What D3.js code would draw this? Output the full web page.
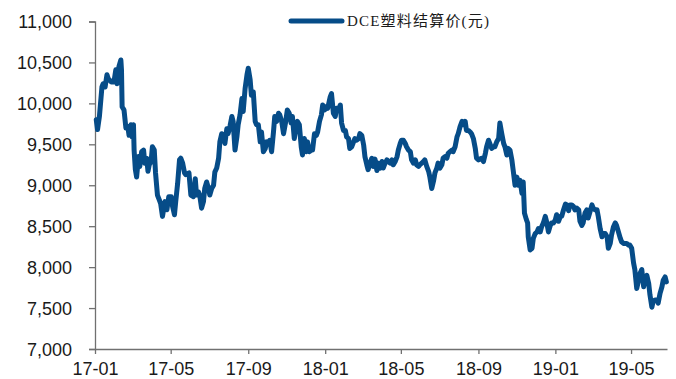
<!DOCTYPE html>
<html>
<head>
<meta charset="utf-8">
<script src="https://cdn.jsdelivr.net/npm/d3@7/dist/d3.min.js"></script>
<style>
  html, body { margin: 0; padding: 0; background: #fff; }
  svg { display: block; }
  .tick text { font-family: "Liberation Sans", Arial, sans-serif; font-size: 18px; fill: #1a1a1a; }
</style>
</head>
<body>
<svg id="chart" width="676" height="379"></svg>
<script>
// DCE plastic (LLDPE) settlement price, yuan/ton
const dates = [
  "17-01-03","17-01-05","17-01-08","17-01-12","17-01-14","17-01-17","17-01-20","17-01-22","17-01-27","17-01-31",
  "17-02-03","17-02-05","17-02-08","17-02-11","17-02-12","17-02-13","17-02-16","17-02-19","17-02-22","17-02-24","17-02-27",
  "17-03-01","17-03-03","17-03-04","17-03-06","17-03-08","17-03-11","17-03-13","17-03-16","17-03-19","17-03-21","17-03-24","17-03-26","17-03-28","17-03-31",
  "17-04-02","17-04-05","17-04-07","17-04-10","17-04-12","17-04-15","17-04-18","17-04-22","17-04-25","17-04-28",
  "17-05-02","17-05-04","17-05-07","17-05-09","17-05-12","17-05-15","17-05-17","17-05-20","17-05-23","17-05-25","17-05-30",
  "17-06-02","17-06-06","17-06-09","17-06-11","17-06-14","17-06-16","17-06-19","17-06-22","17-06-24","17-06-27","17-06-30",
  "17-07-02","17-07-05","17-07-08","17-07-10","17-07-13","17-07-16","17-07-18","17-07-21","17-07-24","17-07-26","17-07-29","17-07-31",
  "17-08-03","17-08-06","17-08-08","17-08-11","17-08-14","17-08-16","17-08-19","17-08-22","17-08-24","17-08-27","17-08-30",
  "17-09-01","17-09-04","17-09-06","17-09-09","17-09-12","17-09-14","17-09-17","17-09-20","17-09-22","17-09-25","17-09-28","17-09-30",
  "17-10-03","17-10-05","17-10-08","17-10-11","17-10-13","17-10-16","17-10-19","17-10-21","17-10-24","17-10-27","17-10-30",
  "17-11-02","17-11-05","17-11-08","17-11-10","17-11-13","17-11-16","17-11-18","17-11-21","17-11-24","17-11-26","17-11-29",
  "17-12-02","17-12-04","17-12-07","17-12-10","17-12-12","17-12-15","17-12-18","17-12-20","17-12-23","17-12-26","17-12-28","17-12-31",
  "18-01-03","18-01-05","18-01-09","18-01-11","18-01-14","18-01-17","18-01-19","18-01-22","18-01-25","18-01-27","18-01-30",
  "18-02-02","18-02-04","18-02-07","18-02-09","18-02-12","18-02-15","18-02-17","18-02-20","18-02-23","18-02-25","18-02-28",
  "18-03-03","18-03-05","18-03-08","18-03-10","18-03-13","18-03-16","18-03-18","18-03-21","18-03-24","18-03-26","18-03-29",
  "18-04-01","18-04-03","18-04-06","18-04-09","18-04-11","18-04-14","18-04-17","18-04-19","18-04-22","18-04-25","18-04-27","18-04-30",
  "18-05-02","18-05-05","18-05-08","18-05-10","18-05-13","18-05-16","18-05-18","18-05-21","18-05-24","18-05-26","18-05-29","18-05-31",
  "18-06-03","18-06-06","18-06-08","18-06-11","18-06-14","18-06-16","18-06-19","18-06-22","18-06-24","18-06-27","18-06-29",
  "18-07-02","18-07-05","18-07-07","18-07-10","18-07-13","18-07-15","18-07-18","18-07-21","18-07-23","18-07-26","18-07-29","18-07-31",
  "18-08-03","18-08-06","18-08-08","18-08-11","18-08-13","18-08-16","18-08-19","18-08-21","18-08-24","18-08-27","18-08-29",
  "18-09-01","18-09-03","18-09-06","18-09-09","18-09-12","18-09-14","18-09-17","18-09-19","18-09-22","18-09-25","18-09-27","18-09-30",
  "18-10-03","18-10-05","18-10-08","18-10-11","18-10-13","18-10-16","18-10-18","18-10-21","18-10-24","18-10-26","18-10-29",
  "18-11-01","18-11-03","18-11-06","18-11-09","18-11-11","18-11-13","18-11-16","18-11-18","18-11-19","18-11-22","18-11-25","18-11-27","18-11-30",
  "18-12-03","18-12-05","18-12-08","18-12-10","18-12-13","18-12-16","18-12-18","18-12-21","18-12-24","18-12-26","18-12-29",
  "19-01-01","19-01-03","19-01-06","19-01-09","19-01-11","19-01-14","19-01-17","19-01-19","19-01-22","19-01-24","19-01-27","19-01-30",
  "19-02-01","19-02-04","19-02-07","19-02-09","19-02-12","19-02-14","19-02-17","19-02-20","19-02-22","19-02-25","19-02-28",
  "19-03-02","19-03-05","19-03-08","19-03-10","19-03-13","19-03-16","19-03-18","19-03-21","19-03-24","19-03-26","19-03-29","19-03-31",
  "19-04-03","19-04-06","19-04-08","19-04-11","19-04-14","19-04-16","19-04-19","19-04-21","19-04-24","19-04-27","19-04-29",
  "19-05-02","19-05-05","19-05-07","19-05-10","19-05-13","19-05-15","19-05-18","19-05-21","19-05-23","19-05-26","19-05-29","19-05-31",
  "19-06-03","19-06-05","19-06-08","19-06-11","19-06-13","19-06-16","19-06-19","19-06-21","19-06-24","19-06-26"
];

const prices = [
  9800,9680,9840,10200,10240,10200,10350,10300,10260,10260,
  10410,10240,10450,10530,10410,9960,9920,9700,9720,9610,9740,
  9590,9740,9430,9190,9100,9350,9230,9410,9430,9270,9330,9170,9250,9290,
  9470,9430,9150,8880,8840,8780,8620,8800,8700,8860,
  8860,8740,8640,8800,9020,9310,9330,9270,9150,9130,9150,
  8880,8860,9080,8880,8920,8880,8720,8800,8960,9040,8960,
  8880,8960,9000,9160,9210,9330,9530,9630,9610,9510,9690,9630,
  9720,9840,9780,9430,9590,9740,9860,10060,9900,10180,10350,
  10430,10290,10100,10140,9780,9740,9740,9530,9650,9410,9450,9530,
  9510,9550,9410,9650,9840,9780,9880,9860,9780,9630,9760,
  9920,9880,9760,9840,9570,9720,9780,9740,9470,9370,9570,
  9410,9530,9410,9430,9430,9630,9610,9650,9780,9860,9980,9920,
  9960,9940,10080,10120,9880,9840,9940,9920,9980,9760,9670,
  9670,9590,9570,9450,9470,9530,9570,9550,9570,9630,9610,
  9490,9350,9250,9190,9270,9330,9230,9320,9180,9270,9210,
  9290,9210,9270,9310,9290,9270,9310,9250,9290,9350,9430,9510,
  9550,9550,9510,9470,9430,9410,9310,9270,9310,9250,9230,9250,
  9270,9290,9310,9230,9170,9100,8960,9060,9150,9210,9270,
  9210,9250,9330,9350,9330,9390,9410,9430,9410,9470,9590,9630,
  9720,9780,9740,9780,9670,9670,9650,9630,9570,9450,9330,
  9310,9320,9330,9290,9390,9470,9550,9510,9450,9470,9470,9530,
  9570,9760,9630,9510,9470,9370,9450,9430,9310,9190,9000,
  9100,9000,9060,8900,9040,8660,8580,8540,8370,8210,8230,8350,8410,
  8430,8470,8430,8490,8540,8620,8560,8430,8510,8540,8540,
  8580,8640,8560,8620,8620,8700,8770,8760,8690,8760,8760,8740,
  8700,8720,8700,8560,8510,8540,8660,8700,8600,8680,8760,
  8720,8700,8700,8620,8470,8370,8410,8410,8370,8230,8290,8390,
  8490,8540,8510,8430,8350,8310,8290,8290,8290,8270,8270,
  8230,8050,7970,7740,7840,7920,7970,7760,7840,7900,7800,7660,
  7510,7580,7600,7600,7560,7680,7760,7840,7880,7820
];

const yTicks = [7000, 7500, 8000, 8500, 9000, 9500, 10000, 10500, 11000];
const xTickLabels = ["17-01", "17-05", "17-09", "18-01", "18-05", "18-09", "19-01", "19-05"];
const seriesName = "DCE塑料结算价(元)";
const domainStart = "17-01-01";
const domainEnd = "19-06-27";

const width = 676, height = 379;
const margin = { top: 21.5, right: 9, bottom: 30, left: 95 };
const lineColor = "#064c88";
const axisColor = "#707070";

const parseDay = d3.timeParse("%y-%m-%d");
const parseMonth = d3.timeParse("%y-%m");
const data = dates.map((d, i) => ({ date: parseDay(d), value: prices[i] }));

const svg = d3.select("#chart");

const x = d3.scaleTime()
  .domain([parseDay(domainStart), parseDay(domainEnd)])
  .range([margin.left, width - margin.right]);

const y = d3.scaleLinear()
  .domain([7000, 11000])
  .range([height - margin.bottom, margin.top]);

// y axis
const yAxis = svg.append("g")
  .attr("transform", `translate(${margin.left},0)`)
  .call(d3.axisLeft(y).tickValues(yTicks).tickFormat(d3.format(",")).tickSize(6).tickPadding(17));
yAxis.select(".domain").attr("stroke", axisColor).attr("stroke-width", 1.3);
yAxis.selectAll(".tick line").attr("stroke", axisColor).attr("stroke-width", 1.3);
yAxis.selectAll(".tick text").attr("dy", "0.36em");

// x axis
const xAxis = svg.append("g")
  .attr("transform", `translate(0,${height - margin.bottom})`)
  .call(d3.axisBottom(x).tickValues(xTickLabels.map(parseMonth)).tickFormat(d3.timeFormat("%y-%m")).tickSize(5).tickSizeOuter(0).tickPadding(8));
xAxis.select(".domain").attr("stroke", axisColor).attr("stroke-width", 1.3);
xAxis.selectAll(".tick line").attr("stroke", axisColor).attr("stroke-width", 1.3);

// price line
const line = d3.line()
  .x(d => x(d.date))
  .y(d => y(d.value));

svg.append("path")
  .datum(data)
  .attr("fill", "none")
  .attr("stroke", lineColor)
  .attr("stroke-width", 5)
  .attr("stroke-linejoin", "round")
  .attr("stroke-linecap", "round")
  .attr("d", line);

// legend
const legend = svg.append("g");
legend.append("line")
  .attr("x1", 291).attr("x2", 342)
  .attr("y1", 21).attr("y2", 21)
  .attr("stroke", lineColor)
  .attr("stroke-width", 5)
  .attr("stroke-linecap", "round");
legend.append("text")
  .attr("x", 347).attr("y", 21)
  .attr("dy", "0.36em")
  .attr("font-family", "'Liberation Serif', 'Noto Sans CJK SC', serif")
  .attr("font-size", 15)
  .attr("fill", "#1a1a1a")
  .attr("textLength", 142)
  .attr("lengthAdjust", "spacing")
  .text(seriesName);
</script>
</body>
</html>
